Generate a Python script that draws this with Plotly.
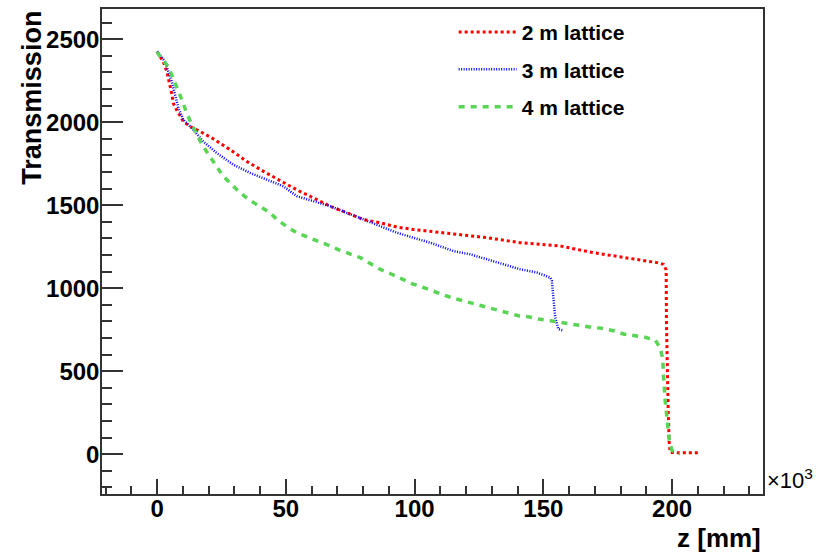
import plotly.graph_objects as go

# ---- data (z in units of 10^3 mm, transmission counts) ----
z_2m = [0, 2.4, 3.8, 5.1, 5.8, 6.3, 7.6, 10.2, 12.8, 16.7, 21.8, 28.4, 34.8, 41.3, 46.5, 50.4,
        54.3, 60.7, 67.2, 73.7, 80.1, 86.6, 93.1, 99.5, 105.4, 115.0, 128.1, 141.0, 156.6,
        169.4, 182.4, 194.1, 196.6, 197.7, 197.8, 198.1, 198.5, 198.9, 199.3, 203.1, 210.5]
t_2m = [2424, 2364, 2304, 2224, 2164, 2114, 2074, 2004, 1974, 1944, 1900, 1834, 1764, 1704, 1660, 1624,
        1592, 1544, 1494, 1454, 1414, 1394, 1368, 1354, 1344, 1324, 1304, 1274, 1254,
        1214, 1184, 1154, 1144, 1110, 800, 500, 250, 60, 10, 8, 8]

z_3m = [0.1, 3.1, 4.4, 5.7, 7.0, 8.3, 10.2, 14.1, 17.9, 23.2, 29.6, 36.2, 42.6, 49.0, 54.3,
        60.7, 67.2, 73.7, 80.1, 86.6, 93.1, 99.5, 106.1, 115.0, 121.6, 128.1, 134.5, 141.0,
        147.5, 152.7, 153.3, 154.6, 155.8, 157.8]
t_3m = [2428, 2364, 2304, 2244, 2164, 2084, 2014, 1954, 1884, 1814, 1744, 1694, 1654, 1614, 1554,
        1524, 1494, 1454, 1414, 1374, 1334, 1304, 1274, 1224, 1204, 1174, 1144, 1114,
        1094, 1064, 1044, 824, 754, 744]

z_4m = [0, 1.2, 4.4, 6.3, 8.3, 9.9, 11.5, 13.5, 15.4, 17.9, 20.6, 23.2, 25.7, 29.0, 32.3, 36.2,
        40.0, 43.9, 46.5, 51.0, 54.3, 58.8, 62.7, 67.2, 71.1, 75.0, 78.9, 82.8, 86.6, 91.1,
        95.0, 98.9, 103.4, 106.6, 111.2, 115.0, 118.9, 123.5, 128.1, 131.9, 135.8, 140.3,
        144.2, 148.1, 152.7, 156.6, 160.4, 164.3, 168.8, 172.7, 177.2, 181.1, 185.0, 189.5,
        193.4, 195.3, 196.4, 196.6, 197.3, 198.2, 198.9, 199.9, 201.8, 203.1]
t_4m = [2424, 2394, 2334, 2264, 2194, 2124, 2054, 1988, 1924, 1854, 1794, 1734, 1674, 1624, 1574, 1528,
        1494, 1454, 1414, 1364, 1334, 1308, 1284, 1254, 1228, 1208, 1184, 1148, 1114, 1084,
        1054, 1028, 1004, 984, 960, 940, 924, 904, 888, 868, 854, 834,
        828, 814, 804, 794, 788, 774, 764, 758, 744, 724, 714, 704,
        688, 644, 574, 484, 324, 204, 84, 24, 4, 4]

labels = ["2 m lattice", "3 m lattice", "4 m lattice"]
colors = ["#ff0000", "#0000ff", "#59d454"]

FONT = "Liberation Sans"

fig = go.Figure()
fig.add_trace(go.Scatter(x=z_2m, y=t_2m, mode="lines", name=labels[0], legendgroup="a",
                         line=dict(color=colors[0], width=3, dash="3px,3px")))
fig.add_trace(go.Scatter(x=z_3m, y=t_3m, mode="lines", name=labels[1], legendgroup="b",
                         line=dict(color=colors[1], width=2.5, dash="1px,1.5px")))
fig.add_trace(go.Scatter(x=z_4m, y=t_4m, mode="lines", name=labels[2], legendgroup="c",
                         line=dict(color=colors[2], width=3.5, dash="6px,6px")))

axcol = "#333333"
fig.update_layout(
    width=819, height=552,
    margin=dict(l=102, r=56, t=7, b=58),
    paper_bgcolor="white", plot_bgcolor="white",
    font=dict(family=FONT, color="black"),
    showlegend=True,
    legend=dict(x=0.532, y=0.994, xanchor="left", yanchor="top",
                bgcolor="rgba(0,0,0,0)", borderwidth=0,
                font=dict(family=FONT, size=21, color="black", weight="bold"),
                tracegroupgap=7, itemwidth=58),
    xaxis=dict(range=[-21.4, 235.3], showgrid=False, zeroline=False,
               showline=True, linecolor=axcol, linewidth=1.5, mirror=True,
               ticks="inside", ticklen=15, tickwidth=1.5, tickcolor=axcol,
               tick0=0, dtick=50, ticklabelstandoff=-8,
               minor=dict(ticks="inside", ticklen=8, tickwidth=1.5, tickcolor=axcol, dtick=10),
               tickfont=dict(family=FONT, size=24, color="black", weight="bold")),
    yaxis=dict(range=[-240, 2682], showgrid=False, zeroline=False,
               showline=True, linecolor=axcol, linewidth=1.5, mirror=True,
               ticks="inside", ticklen=21, tickwidth=1.5, tickcolor=axcol,
               tick0=0, dtick=500, ticklabelstandoff=-4,
               minor=dict(ticks="inside", ticklen=10, tickwidth=1.5, tickcolor=axcol, dtick=100),
               tickfont=dict(family=FONT, size=24, color="black", weight="bold")),
)

fig.add_annotation(text="Transmission", xref="paper", yref="paper",
                   x=-0.106, y=0.817, textangle=-90, showarrow=False,
                   xanchor="center", yanchor="middle",
                   font=dict(family=FONT, size=27, color="black", weight="bold"))
fig.add_annotation(text="z [mm]", xref="paper", yref="paper",
                   x=1.0, y=-0.09, showarrow=False, xanchor="right", yanchor="middle",
                   font=dict(family=FONT, size=26, color="black", weight="bold"))
fig.add_annotation(text="×10<sup>3</sup>", xref="paper", yref="paper",
                   x=1.003, y=0.03, showarrow=False, xanchor="left", yanchor="middle",
                   font=dict(family=FONT, size=22, color="black"))

fig.write_html("out.html")
